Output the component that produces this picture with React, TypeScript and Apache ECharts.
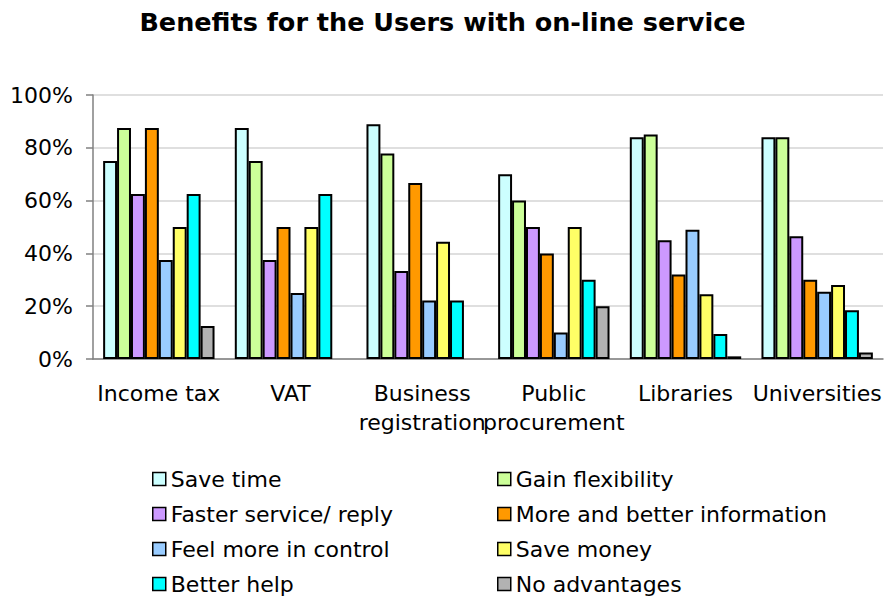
import React, { useEffect, useRef } from "react";
import * as echarts from "echarts";

const categories = [
  "Income tax",
  "VAT",
  "Business\nregistration",
  "Public\nprocurement",
  "Libraries",
  "Universities",
];

const saveTime = [75, 87.5, 88.9, 70, 84, 84];
const gainFlexibility = [87.5, 75, 77.8, 60, 85, 84];
const fasterService = [62.5, 37.5, 33.3, 50, 45, 46.5];
const moreInformation = [87.5, 50, 66.7, 40, 32, 30];
const feelInControl = [37.5, 25, 22.2, 10, 49, 25.5];
const saveMoney = [50, 50, 44.4, 50, 24.5, 28];
const betterHelp = [62.5, 62.5, 22.2, 30, 9.5, 18.5];
const noAdvantages = [12.5, 0, 0, 20, 1, 2.5];

const yTicks = [0, 20, 40, 60, 80, 100];

const seriesDefs = [
  { name: "Save time", data: saveTime, color: "#CCFFFF" },
  { name: "Gain flexibility", data: gainFlexibility, color: "#CCFF99" },
  { name: "Faster service/ reply", data: fasterService, color: "#CC99FF" },
  { name: "More and better information", data: moreInformation, color: "#FF9900" },
  { name: "Feel more in control", data: feelInControl, color: "#99CCFF" },
  { name: "Save money", data: saveMoney, color: "#FFFF66" },
  { name: "Better help", data: betterHelp, color: "#00FFFF" },
  { name: "No advantages", data: noAdvantages, color: "#B2B2B2" },
];

const FONT = "DejaVu Sans";

export default function App() {
  const ref = useRef<HTMLDivElement>(null);
  useEffect(() => {
    if (!ref.current) return;
    const chart = echarts.init(ref.current, undefined, { renderer: "svg" });
    const legendBase = {
      orient: "vertical" as const,
      icon: "rect",
      itemWidth: 13,
      itemHeight: 13,
      itemGap: 13,
      padding: 0,
      height: 128,
      textStyle: {
        fontFamily: FONT,
        fontSize: 22,
        color: "#000",
        lineHeight: 22,
      },
      itemStyle: { borderColor: "#000", borderWidth: 1.5 },
      top: 468,
    };
    chart.setOption({
      animation: false,
      backgroundColor: "#fff",
      title: {
        text: "Benefits for the Users with on-line service",
        left: "center",
        top: 4,
        textStyle: {
          fontFamily: FONT,
          fontSize: 25.5,
          fontWeight: "bold",
          color: "#000",
        },
      },
      legend: [
        {
          ...legendBase,
          left: 152,
          data: [
            "Save time",
            "Faster service/ reply",
            "Feel more in control",
            "Better help",
          ],
        },
        {
          ...legendBase,
          left: 497,
          data: [
            "Gain flexibility",
            "More and better information",
            "Save money",
            "No advantages",
          ],
        },
      ],
      grid: { left: 93, right: 2, top: 95, bottom: 237, containLabel: false },
      xAxis: {
        type: "category",
        data: categories,
        axisLine: { show: true, lineStyle: { color: "#808080", width: 1.5 } },
        axisTick: { show: false },
        axisLabel: {
          fontFamily: FONT,
          fontSize: 22,
          color: "#000",
          lineHeight: 29,
          margin: 20,
          interval: 0,
        },
      },
      yAxis: {
        type: "value",
        min: yTicks[0],
        max: yTicks[yTicks.length - 1],
        interval: 20,
        axisLine: { show: true, lineStyle: { color: "#808080", width: 1.5 } },
        axisTick: { show: true, length: 7, lineStyle: { color: "#808080", width: 1.5 } },
        axisLabel: {
          fontFamily: FONT,
          fontSize: 22,
          color: "#000",
          margin: 20,
          formatter: "{value}%",
        },
        splitLine: { show: true, lineStyle: { color: "#D4D4D4", width: 1.5 } },
      },
      series: seriesDefs.map((s) => ({
        type: "bar",
        name: s.name,
        data: s.data.map((v) =>
          v === 0 ? { value: v, itemStyle: { borderWidth: 0 } } : v
        ),
        barGap: "0%",
        barCategoryGap: "15.4%",
        itemStyle: { color: s.color, borderColor: "#000", borderWidth: 2 },
      })),
    });
    return () => chart.dispose();
  }, []);
  return (
    <div
      ref={ref}
      style={{ position: "absolute", left: 0, top: 0, width: 885, height: 596 }}
    />
  );
}
